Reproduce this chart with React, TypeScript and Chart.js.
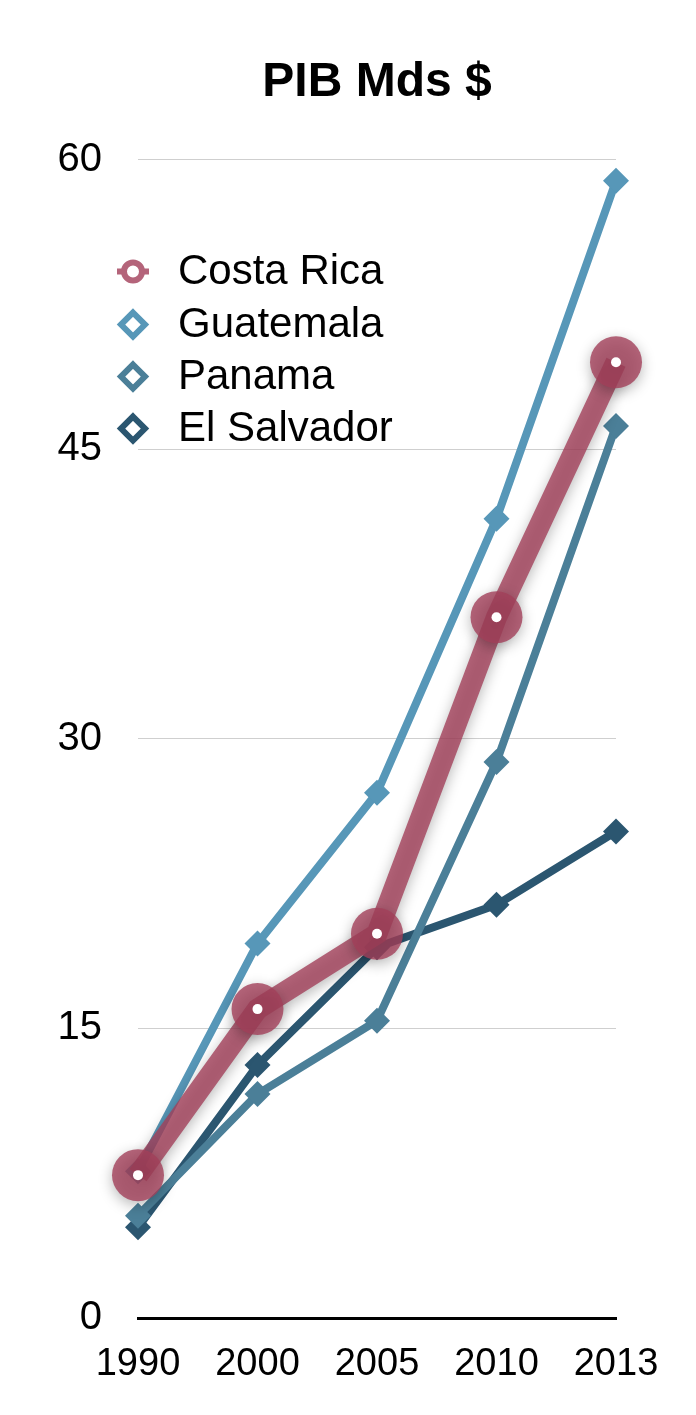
import React, { useEffect, useRef } from "react";
import { Chart, registerables } from "chart.js";

Chart.register(...registerables);

const years = ["1990", "2000", "2005", "2010", "2013"];
const costaRica = [7.4, 16.0, 19.9, 36.3, 49.5];
const guatemala = [7.6, 19.4, 27.2, 41.4, 58.9];
const panama = [5.3, 11.6, 15.4, 28.8, 46.2];
const elSalvador = [4.7, 13.1, 19.2, 21.4, 25.2];
const yTicks = [0, 15, 30, 45, 60];
const seriesNames = ["Costa Rica", "Guatemala", "Panama", "El Salvador"];
const titleText = "PIB Mds $";

const FONT = 'Helvetica, Arial, "Liberation Sans", sans-serif';
const PINK = "rgba(162,64,90,0.8)";
const PINK_SOLID = "#b4647a";
const COLORS = [PINK_SOLID, "#5797b8", "#4b7f98", "#2b5670"];

const shadowPlugin = {
  id: "crShadow",
  beforeDatasetDraw(chart: any, args: any) {
    if (args.index === 0) {
      const ctx = chart.ctx;
      ctx.save();
      ctx.shadowColor = "rgba(0,0,0,0.35)";
      ctx.shadowBlur = 14;
      ctx.shadowOffsetX = 0;
      ctx.shadowOffsetY = 4;
    }
  },
  afterDatasetDraw(chart: any, args: any) {
    if (args.index === 0) {
      chart.ctx.restore();
      const ctx = chart.ctx;
      ctx.save();
      ctx.fillStyle = "#ffffff";
      args.meta.data.forEach((pt: any) => {
        ctx.beginPath();
        ctx.arc(pt.x, pt.y, 5, 0, Math.PI * 2);
        ctx.fill();
      });
      ctx.restore();
    }
  },
};

const legendPlugin = {
  id: "customLegend",
  afterDraw(chart: any) {
    const ctx = chart.ctx;
    const { left, top } = chart.chartArea;
    const mx = left - 5;
    const tx = left + 40;
    const rows = [112, 165, 217, 269];
    ctx.save();
    seriesNames.forEach((name, i) => {
      const y = top + rows[i];
      if (i === 0) {
        ctx.strokeStyle = COLORS[0];
        ctx.lineWidth = 6;
        ctx.beginPath();
        ctx.moveTo(mx - 16, y);
        ctx.lineTo(mx - 9, y);
        ctx.moveTo(mx + 9, y);
        ctx.lineTo(mx + 16, y);
        ctx.stroke();
        ctx.beginPath();
        ctx.arc(mx, y, 9, 0, Math.PI * 2);
        ctx.stroke();
      } else {
        ctx.strokeStyle = COLORS[i];
        ctx.lineWidth = 6;
        ctx.beginPath();
        ctx.moveTo(mx, y - 12);
        ctx.lineTo(mx + 12, y);
        ctx.lineTo(mx, y + 12);
        ctx.lineTo(mx - 12, y);
        ctx.closePath();
        ctx.stroke();
      }
      ctx.fillStyle = "#000";
      ctx.font = `42px ${FONT}`;
      ctx.textAlign = "left";
      ctx.textBaseline = "middle";
      ctx.fillText(name, tx, y + 1);
    });
    ctx.restore();
  },
};

export default function App() {
  const ref = useRef<HTMLCanvasElement | null>(null);
  useEffect(() => {
    if (!ref.current) return;
    const chart = new Chart(ref.current, {
      type: "line",
      data: {
        labels: years,
        datasets: [
          {
            label: seriesNames[0],
            data: costaRica,
            borderColor: PINK,
            backgroundColor: PINK,
            borderWidth: 21,
            pointStyle: "circle",
            pointRadius: 26,
            pointBackgroundColor: PINK,
            pointBorderWidth: 0,
            clip: false,
          },
          {
            label: seriesNames[1],
            data: guatemala,
            borderColor: COLORS[1],
            backgroundColor: COLORS[1],
            borderWidth: 8,
            pointStyle: "rectRot",
            pointRadius: 13,
            pointBorderWidth: 0,
            pointBackgroundColor: COLORS[1],
            clip: false,
          },
          {
            label: seriesNames[2],
            data: panama,
            borderColor: COLORS[2],
            backgroundColor: COLORS[2],
            borderWidth: 8,
            pointStyle: "rectRot",
            pointRadius: 13,
            pointBorderWidth: 0,
            pointBackgroundColor: COLORS[2],
            clip: false,
          },
          {
            label: seriesNames[3],
            data: elSalvador,
            borderColor: COLORS[3],
            backgroundColor: COLORS[3],
            borderWidth: 8,
            pointStyle: "rectRot",
            pointRadius: 13,
            pointBorderWidth: 0,
            pointBackgroundColor: COLORS[3],
            clip: false,
          },
        ],
      },
      options: {
        animation: false,
        responsive: true,
        maintainAspectRatio: false,
        layout: { padding: { left: 0, right: 80, top: 0, bottom: 0 } },
        plugins: {
          legend: { display: false },
          tooltip: { enabled: false },
          title: {
            display: true,
            text: titleText,
            fullSize: false,
            color: "#000",
            font: { family: FONT, size: 48, weight: "bold" },
            padding: { top: 54, bottom: 48 },
          },
        },
        scales: {
          x: {
            grid: { display: false, drawTicks: false },
            border: { display: true, color: "#000", width: 3 },
            ticks: {
              color: "#000",
              font: { family: FONT, size: 38 },
              padding: 24,
              maxRotation: 0,
              autoSkip: false,
            },
            afterFit: (scale: any) => {
              scale.height = 97;
            },
          },
          y: {
            min: 0,
            max: 60,
            afterBuildTicks: (scale: any) => {
              scale.ticks = yTicks.map((v) => ({ value: v }));
            },
            grid: {
              drawTicks: false,
              color: (c: any) => (c.tick && c.tick.value === 0 ? "rgba(0,0,0,0)" : "#cfcfcf"),
              lineWidth: 1,
            },
            border: { display: false },
            ticks: {
              color: "#000",
              font: { family: FONT, size: 40 },
              padding: 36,
            },
            afterFit: (scale: any) => {
              scale.width = 138;
            },
          },
        },
      },
      plugins: [shadowPlugin, legendPlugin],
    });
    return () => chart.destroy();
  }, []);
  return (
    <div style={{ position: "absolute", left: 0, top: 0, width: 696, height: 1415 }}>
      <canvas ref={ref} />
    </div>
  );
}
